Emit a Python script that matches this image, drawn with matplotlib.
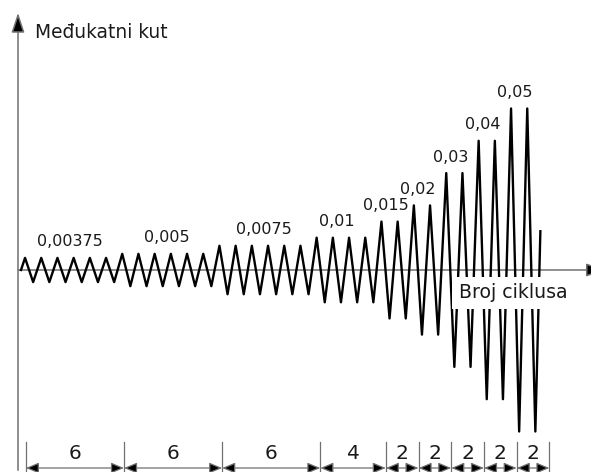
import numpy as np
import matplotlib.pyplot as plt

# drift amplitude of each loading step and number of cycles in it
amplitudes = [0.00375, 0.005, 0.0075, 0.01, 0.015, 0.02, 0.03, 0.04, 0.05]
cycles = [6, 6, 6, 4, 2, 2, 2, 2, 2]
amp_labels = ['0,00375', '0,005', '0,0075', '0,01', '0,015',
              '0,02', '0,03', '0,04', '0,05']
count_labels = [str(c) for c in cycles]
tail = 0.06  # curve is cut just after the last zero crossing

# zigzag: peak at 1/4 and trough at 3/4 of every cycle
xs, ys = [0.0], [0.0]
n = 0
for a, c in zip(amplitudes, cycles):
    for i in range(c):
        xs += [n + 0.25, n + 0.75]
        ys += [a, -a]
        n += 1
xs.append(n + tail)
ys.append(-amplitudes[-1] + (0.25 + tail) / 0.5 * 2 * amplitudes[-1])

fig = plt.figure(figsize=(5.91, 4.72), dpi=100)
ax = fig.add_axes([0, 0, 1, 1])
ax.set_xlim(-1.296, 35.185)
ax.set_ylim(-0.06254, 0.08359)
ax.axis('off')

axis_col = '#707070'
x0 = -0.185

# axes with arrows
ax.annotate('', xy=(x0, 0.0796), xytext=(x0, -0.0620),
            arrowprops=dict(arrowstyle='-|>,head_length=0.6,head_width=0.2',
                            mutation_scale=20, fc='black', ec=axis_col,
                            lw=1.1, shrinkA=0, shrinkB=0),
            annotation_clip=False, zorder=1)
ax.annotate('', xy=(36.1, 0), xytext=(x0, 0),
            arrowprops=dict(arrowstyle='-|>,head_length=0.6,head_width=0.2',
                            mutation_scale=20, fc='black', ec=axis_col,
                            lw=1.1, shrinkA=0, shrinkB=0),
            annotation_clip=False, zorder=1)

# loading history
ax.plot(xs, ys, color='black', lw=1.7, zorder=2)

# amplitude labels above each step
start = np.concatenate([[0], np.cumsum(cycles)[:-1]])
for s, c, a, lab in zip(start, cycles, amplitudes, amp_labels):
    xc = s + c / 2 - (0.5 if c <= 4 else 0)
    ax.annotate(lab, xy=(xc, a), xytext=(0, 11.5), textcoords='offset points',
                ha='center', va='center', fontsize=11.5, color='#1a1a1a')

# axis titles
ax.text(35 / 591, 1 - 37.5 / 472, 'Međukatni kut', transform=ax.transAxes,
        ha='left', va='baseline', fontsize=13.4, color='#1a1a1a')
ax.text(513 / 591, 1 - 293 / 472, 'Broj ciklusa', transform=ax.transAxes,
        ha='center', va='center', fontsize=13.6, color='#1a1a1a', zorder=5,
        bbox=dict(fc='white', ec='none', pad=4.5))

# dimension row with number of cycles
edges = 0.3 + 1.01 * np.concatenate([[0], np.cumsum(cycles)])
y_dim = -0.0613
for e in edges:
    ax.plot([e, e], [-0.0533, -0.0630], color=axis_col, lw=0.9, zorder=1)
for e1, e2, lab in zip(edges[:-1], edges[1:], count_labels):
    ax.annotate('', xy=(e2, y_dim), xytext=(e1, y_dim),
                arrowprops=dict(arrowstyle='<|-|>,head_length=0.6,head_width=0.25',
                                mutation_scale=13, fc='black', ec=axis_col,
                                lw=0.9, shrinkA=0, shrinkB=0))
    ax.text((e1 + e2) / 2, -0.0567, lab, ha='center', va='center',
            fontsize=14.5, color='#1a1a1a')

fig.savefig('out.png', dpi=100)
